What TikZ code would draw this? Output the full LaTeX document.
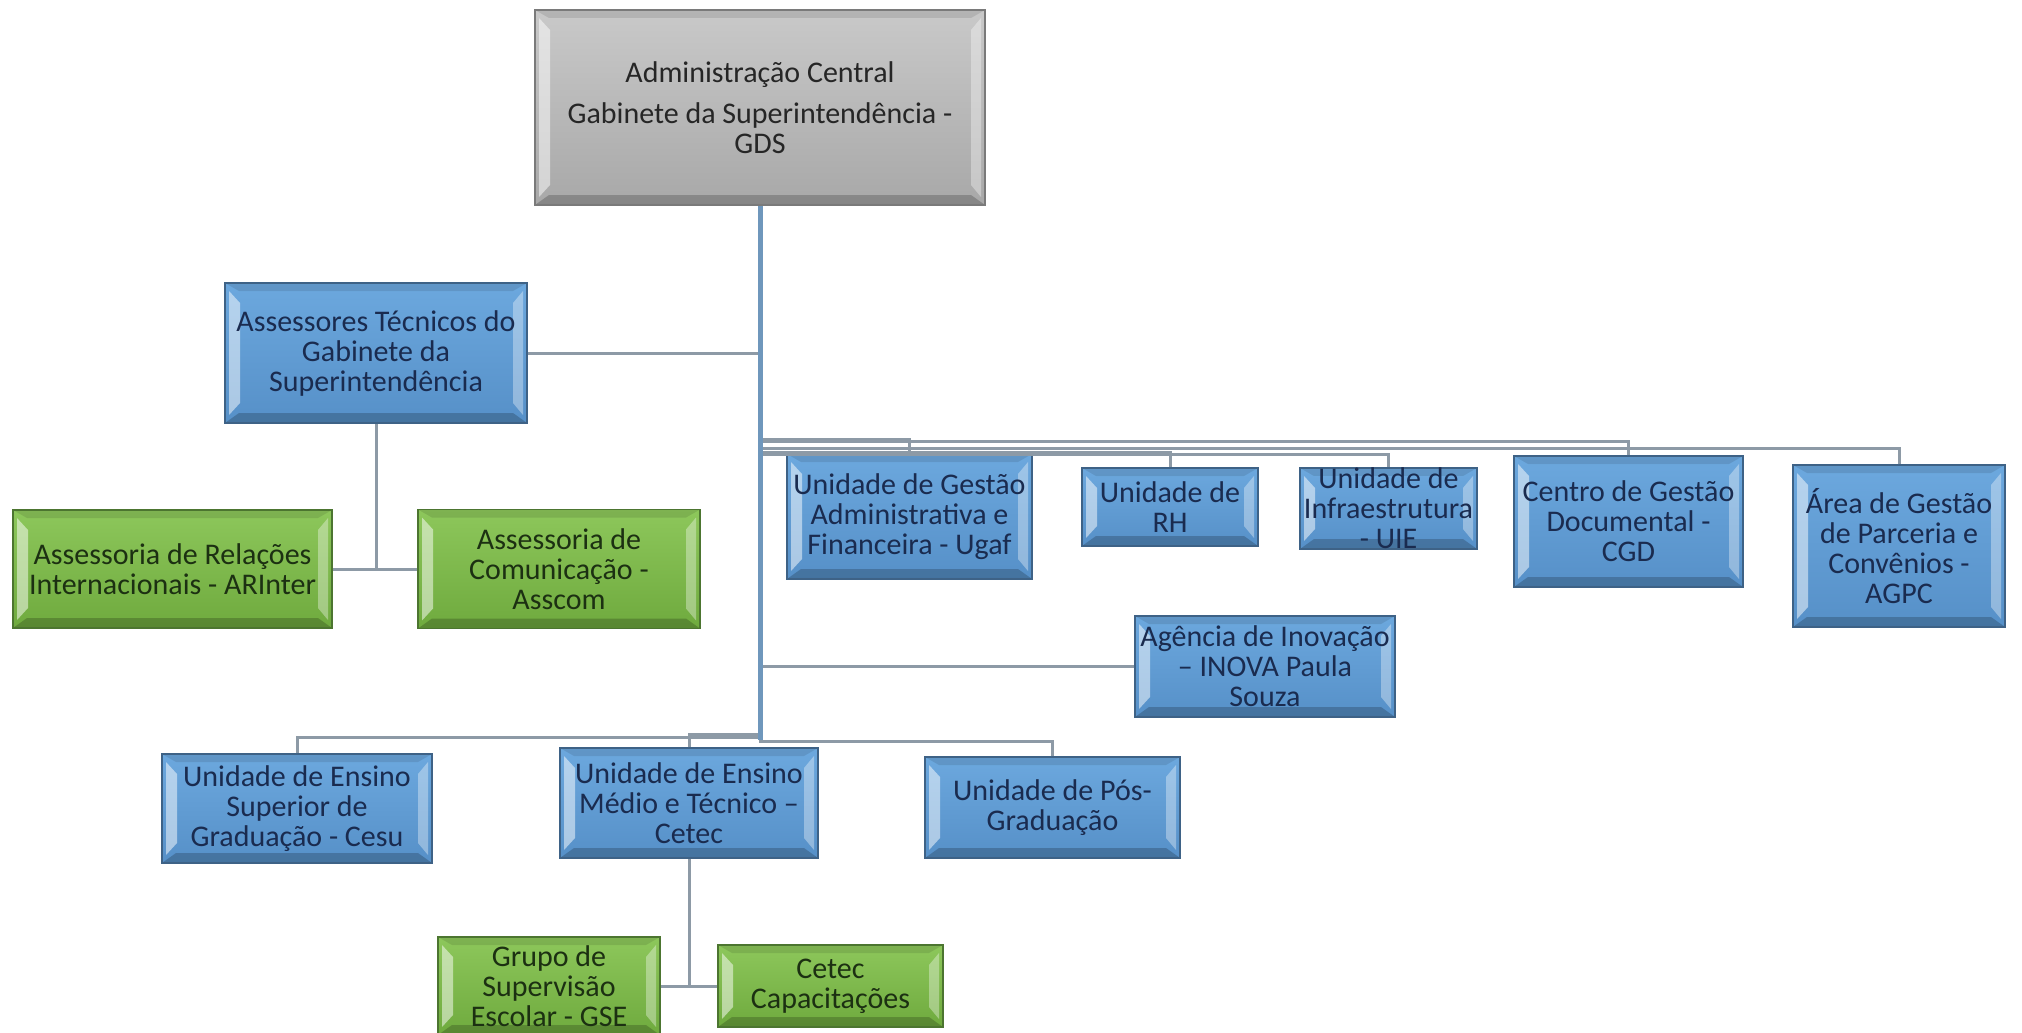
\documentclass[tikz,border=0pt]{standalone}
\usepackage{fontspec}
\setmainfont{Carlito}
\usetikzlibrary{positioning}

\definecolor{gdstop}{HTML}{C9C9C9}
\definecolor{gdsbot}{HTML}{A8A8A8}
\definecolor{gdsedge}{HTML}{7A7A7A}
\definecolor{unittop}{HTML}{6CA8DE}
\definecolor{unitbot}{HTML}{5690C8}
\definecolor{unitedge}{HTML}{3E6286}
\definecolor{unittext}{HTML}{1A2B4F}
\definecolor{asstop}{HTML}{8DC75B}
\definecolor{assbot}{HTML}{6FAA3E}
\definecolor{assedge}{HTML}{4C7530}
\definecolor{asstext}{HTML}{1C3012}
\definecolor{linkgray}{HTML}{8D9AA6}
\definecolor{trunkblue}{HTML}{6F97BC}

\newcommand{\boxfont}{\fontsize{30}{30}\selectfont}

\tikzset{
  bevel/.style={path picture={
    \fill[white, opacity=.5]
      ([xshift=4pt, yshift=-8pt]path picture bounding box.north west)
      -- ([xshift=15pt, yshift=-20pt]path picture bounding box.north west)
      -- ([xshift=15pt, yshift=20pt]path picture bounding box.south west)
      -- ([xshift=4pt, yshift=8pt]path picture bounding box.south west) -- cycle;
    \fill[white, opacity=.35]
      ([xshift=-4pt, yshift=-8pt]path picture bounding box.north east)
      -- ([xshift=-14pt, yshift=-20pt]path picture bounding box.north east)
      -- ([xshift=-14pt, yshift=20pt]path picture bounding box.south east)
      -- ([xshift=-4pt, yshift=8pt]path picture bounding box.south east) -- cycle;
    \fill[black, opacity=.2]
      (path picture bounding box.south west) -- (path picture bounding box.south east)
      -- ([xshift=-14pt, yshift=10pt]path picture bounding box.south east)
      -- ([xshift=14pt, yshift=10pt]path picture bounding box.south west) -- cycle;
    \fill[black, opacity=.1]
      (path picture bounding box.north west) -- (path picture bounding box.north east)
      -- ([xshift=-14pt, yshift=-8pt]path picture bounding box.north east)
      -- ([xshift=14pt, yshift=-8pt]path picture bounding box.north west) -- cycle;
  }},
  orgbox/.style={rectangle, draw, line width=1.5pt, inner sep=0pt, align=center, font=\boxfont, bevel},
  topbox/.style={orgbox, draw=gdsedge, top color=gdstop, bottom color=gdsbot, text=black!85},
  unit/.style={orgbox, draw=unitedge, top color=unittop, bottom color=unitbot, text=unittext},
  assess/.style={orgbox, draw=assedge, top color=asstop, bottom color=assbot, text=asstext},
  link/.style={draw=linkgray, line width=3pt},
  trunk/.style={draw=trunkblue, line width=5pt},
}

\begin{document}
\begin{tikzpicture}[x=1pt, y=-1pt, node distance=0pt]
\fill[white] (0,0) rectangle (2022,1033);
\useasboundingbox (0,0) rectangle (2022,1033);

\node[topbox, minimum width=450pt, minimum height=195pt] (gds) at (760,107.5) {Administração Central\\[11pt]Gabinete da Superintendência -\\GDS};

\node[unit, below of=gds, xshift=-384pt, yshift=-245.5pt, minimum width=302pt, minimum height=140pt] (ats) {Assessores Técnicos do\\Gabinete da\\Superintendência};
\node[assess, below of=ats, xshift=-203.5pt, yshift=-216pt, minimum width=319pt, minimum height=118pt] (ari) {Assessoria de Relações\\Internacionais - ARInter};
\node[assess, right of=ari, xshift=386.5pt, minimum width=282pt, minimum height=119pt] (asc) {Assessoria de\\Comunicação -\\Asscom};

\node[unit, below of=gds, xshift=149.5pt, yshift=-409pt, minimum width=245pt, minimum height=125pt] (ugaf) {Unidade de Gestão\\Administrativa e\\Financeira - Ugaf};
\node[unit, right of=ugaf, xshift=260.5pt, yshift=9.5pt, minimum width=176pt, minimum height=78pt] (rh) {Unidade de\\RH};
\node[unit, right of=rh, xshift=218.5pt, yshift=-1.5pt, minimum width=177pt, minimum height=81pt] (uie) {Unidade de\\Infraestrutura\\- UIE};
\node[unit, right of=uie, xshift=240pt, yshift=-13pt, minimum width=229pt, minimum height=131pt] (cgd) {Centro de Gestão\\Documental -\\CGD};
\node[unit, right of=cgd, xshift=270.5pt, yshift=-24.5pt, minimum width=212pt, minimum height=162pt] (agpc) {Área de Gestão\\de Parceria e\\Convênios -\\AGPC};

\node[unit, below of=gds, xshift=505pt, yshift=-559pt, minimum width=260pt, minimum height=101pt] (inova) {Agência de Inovação\\– INOVA Paula\\Souza};

\node[unit, below of=gds, xshift=-463pt, yshift=-701pt, minimum width=270pt, minimum height=109pt] (cesu) {Unidade de Ensino\\Superior de\\Graduação - Cesu};
\node[unit, right of=cesu, xshift=392pt, yshift=5.5pt, minimum width=258pt, minimum height=110pt] (cetec) {Unidade de Ensino\\Médio e Técnico –\\Cetec};
\node[unit, right of=cetec, xshift=363.5pt, yshift=-4.5pt, minimum width=255pt, minimum height=101pt] (pos) {Unidade de Pós-\\Graduação};

\node[assess, below of=cetec, xshift=-140pt, yshift=-183pt, minimum width=222pt, minimum height=98pt] (gse) {Grupo de\\Supervisão\\Escolar - GSE};
\node[assess, right of=gse, xshift=281.5pt, minimum width=225pt, minimum height=82pt] (cap) {Cetec\\Capacitações};

% links to the trunk
\draw[link]
  (ats.east) -- (ats.east -| gds.south)
  (ugaf.north) -- ++(0,-14) -| (gds.south)
  (rh.north) -- ++(0,-15) -| (gds.south)
  (uie.north) -- ++(0,-13) -| (gds.south)
  (cgd.north) -- ++(0,-14) -| (gds.south)
  (agpc.north) -- ++(0,-16) -| (gds.south)
  (inova.west) -- (inova.west -| gds.south)
  (cesu.north) -- ++(0,-16) -| (gds.south)
  (cetec.north) -- ++(0,-13) -| (gds.south)
  (pos.north) -- ++(0,-15) -| (gds.south);

% sub-levels
\draw[link]
  (ats.south) -- (ats.south |- ari.east)
  (ari.east) -- (asc.west)
  (cetec.south) -- (cetec.south |- gse.east)
  (gse.east) -- (cap.west);

\draw[trunk] (gds.south) -- ([yshift=7pt]gds.south |- cetec.north);
\end{tikzpicture}
\end{document}
